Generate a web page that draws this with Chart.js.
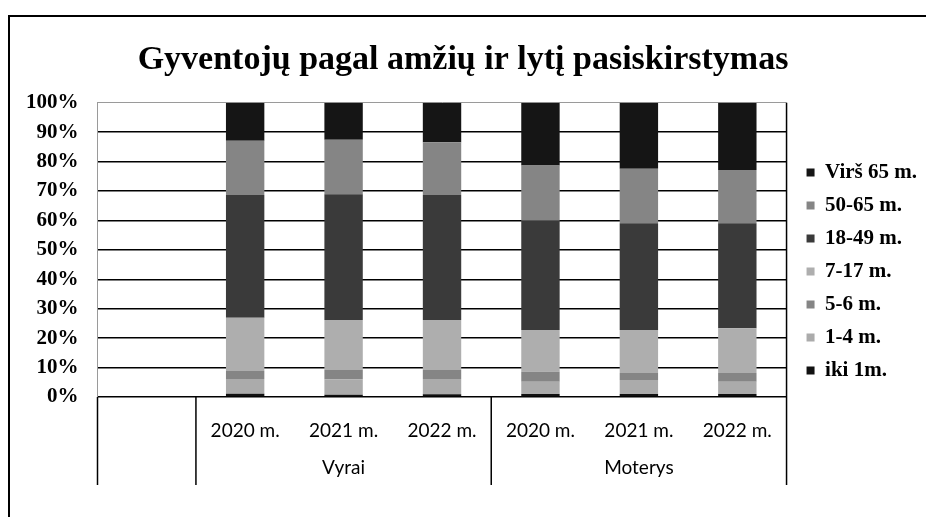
<!DOCTYPE html>
<html>
<head>
<meta charset="utf-8">
<script src="https://cdn.jsdelivr.net/npm/chart.js@4.4.1/dist/chart.umd.min.js"></script>
<style>
html,body{margin:0;padding:0;background:#fff;}
#wrap{position:absolute;left:0;top:0;width:926px;height:517px;}
</style>
</head>
<body>
<div id="wrap"><canvas id="c" width="926" height="517"></canvas></div>
<script>
const titleText = 'Gyventojų pagal amžių ir lytį pasiskirstymas';
const categories = ['', '2020 m.', '2021 m.', '2022 m.', '2020 m.', '2021 m.', '2022 m.'];
const groups = ['Vyrai', 'Moterys'];
const groupSpans = [[1, 3], [4, 6]];
const yTicks = [0, 10, 20, 30, 40, 50, 60, 70, 80, 90, 100];

const iki1 =   [null, 1.1, 0.8, 0.9, 1.0, 1.0, 1.0];
const m1_4 =   [null, 5.0, 5.2, 5.2, 4.2, 4.8, 4.2];
const m5_6 =   [null, 2.7, 3.2, 3.1, 3.4, 2.4, 3.0];
const m7_17 =  [null, 18.1, 17.0, 17.0, 14.2, 14.6, 15.2];
const m18_49 = [null, 41.8, 42.7, 42.5, 37.1, 36.3, 35.7];
const m50_65 = [null, 18.4, 18.5, 17.9, 18.8, 18.5, 18.1];
const virs65 = [null, 12.9, 12.6, 13.4, 21.3, 22.4, 22.8];

const seriesNames = ['iki 1m.', '1-4 m.', '5-6 m.', '7-17 m.', '18-49 m.', '50-65 m.', 'Virš 65 m.'];
const seriesData = [iki1, m1_4, m5_6, m7_17, m18_49, m50_65, virs65];
const seriesColors = ['#111111', '#ababab', '#858585', '#aeaeae', '#3a3a3a', '#858585', '#151515'];

const serif = '"Liberation Serif", "Times New Roman", serif';
const sans = 'Lato, "Open Sans", sans-serif';

const decor = {
  id: 'decor',
  afterLayout(chart) {
    const lg = chart.legend;
    if (lg) { lg.left += 8; lg.right += 8; lg.top += 18; lg.bottom += 18; }
  },
  beforeDraw(chart) {
    const ctx = chart.ctx;
    ctx.save();
    ctx.fillStyle = '#fff';
    ctx.fillRect(0, 0, chart.width, chart.height);
    ctx.strokeStyle = '#000';
    ctx.lineWidth = 2;
    ctx.beginPath();
    ctx.moveTo(9, chart.height);
    ctx.lineTo(9, 16);
    ctx.lineTo(chart.width, 16);
    ctx.stroke();
    ctx.restore();
  },
  afterDraw(chart) {
    const ctx = chart.ctx;
    const x = chart.scales.x;
    const area = chart.chartArea;
    const step = x.getPixelForValue(1) - x.getPixelForValue(0);
    const bottom = x.bottom;
    ctx.save();
    ctx.strokeStyle = '#000';
    ctx.lineWidth = 1.5;
    ctx.beginPath();
    ctx.moveTo(area.right, area.top);
    ctx.lineTo(area.right, bottom);
    ctx.stroke();
    const seps = [x.getPixelForValue(0) - step / 2, x.getPixelForValue(1) - step / 2, x.getPixelForValue(4) - step / 2];
    seps.forEach(px => {
      ctx.beginPath();
      ctx.moveTo(px, area.bottom);
      ctx.lineTo(px, bottom);
      ctx.stroke();
    });
    ctx.fillStyle = '#000';
    ctx.font = '19px ' + sans;
    ctx.textAlign = 'center';
    ctx.textBaseline = 'middle';
    groups.forEach((g, i) => {
      const a = x.getPixelForValue(groupSpans[i][0]);
      const b = x.getPixelForValue(groupSpans[i][1]);
      ctx.fillText(g, (a + b) / 2, area.bottom + 71);
    });
    ctx.restore();
  }
};

new Chart(document.getElementById('c'), {
  type: 'bar',
  data: {
    labels: categories,
    datasets: seriesNames.map((n, i) => ({
      label: n,
      data: seriesData[i],
      backgroundColor: seriesColors[i],
      borderWidth: 0,
      categoryPercentage: 1,
      barPercentage: 0.39
    }))
  },
  options: {
    responsive: false,
    animation: false,
    layout: { padding: { top: 22, left: 7, right: 7, bottom: 32 } },
    plugins: {
      tooltip: { enabled: false },
      title: {
        display: true,
        text: titleText,
        color: '#000',
        font: { family: serif, size: 34, weight: 'bold' },
        padding: { top: 18, bottom: 22 }
      },
      legend: {
        position: 'right',
        reverse: true,
        labels: {
          color: '#000',
          boxWidth: 8,
          boxHeight: 8,
          padding: 12,
          font: { family: serif, size: 21, weight: 'bold' }
        }
      }
    },
    scales: {
      x: {
        stacked: true,
        grid: { display: false },
        border: { display: false },
        ticks: {
          color: '#000',
          padding: 14,
          maxRotation: 0,
          autoSkip: false,
          font: { family: sans, size: 19 }
        },
        afterFit(s) { s.height = 88; }
      },
      y: {
        stacked: true,
        min: 0,
        max: 100,
        afterBuildTicks(s) { s.ticks = yTicks.map(v => ({ value: v })); },
        grid: {
          drawTicks: false,
          color: ctx => (ctx.tick && ctx.tick.value === 100) ? '#9a9a9a' : '#000',
          lineWidth: ctx => (ctx.tick && ctx.tick.value === 100) ? 1 : 1.6
        },
        border: { display: true, color: '#9a9a9a', width: 1 },
        ticks: {
          color: '#000',
          padding: 19,
          font: { family: serif, size: 21, weight: 'bold' },
          callback: v => v + '%'
        }
      }
    }
  },
  plugins: [decor]
});
</script>
</body>
</html>
